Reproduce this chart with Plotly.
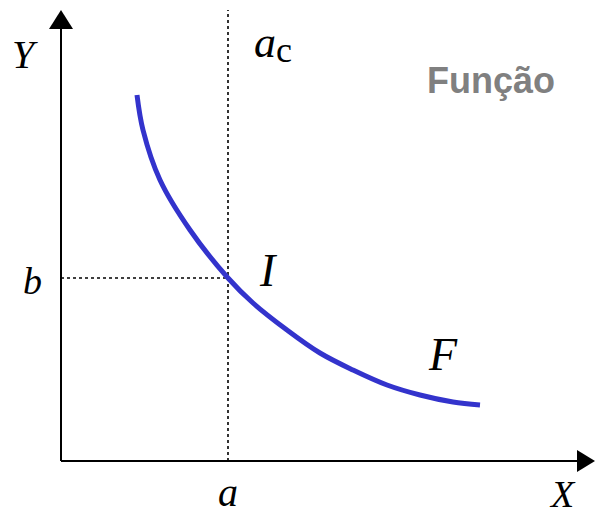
import plotly.graph_objects as go

# Curve F (data units: origin at axes intersection, 1 unit ~ 1 px)
curve_x = [76, 82, 99, 129, 167, 192, 226, 259, 292, 326, 359, 392, 419]
curve_y = [366, 331, 281, 231, 183, 158, 131, 108, 91, 76, 66, 59, 56]

a_val = 167
b_val = 183
x_max = 534
y_max = 451

serif = "Liberation Serif"
sans = "Liberation Sans"

fig = go.Figure()

# dotted guide lines
fig.add_trace(go.Scatter(x=[a_val, a_val], y=[0, y_max], mode="lines",
                         line=dict(color="black", width=1.6, dash="dot"),
                         hoverinfo="skip", showlegend=False))
fig.add_trace(go.Scatter(x=[0, a_val], y=[b_val, b_val], mode="lines",
                         line=dict(color="black", width=1.6, dash="dot"),
                         hoverinfo="skip", showlegend=False))

# curve
fig.add_trace(go.Scatter(x=curve_x, y=curve_y, mode="lines",
                         line=dict(color="#3333CC", width=5, shape="spline", smoothing=1.0),
                         hoverinfo="skip", showlegend=False))

shapes = [
    # axes
    dict(type="line", x0=0, y0=0, x1=0, y1=440, line=dict(color="black", width=2)),
    dict(type="line", x0=0, y0=0, x1=520, y1=0, line=dict(color="black", width=2)),
    # arrow heads
    dict(type="path", path="M -12,432 L 12,432 L 0,451 Z", fillcolor="black",
         line=dict(color="black", width=0)),
    dict(type="path", path="M 516,-11 L 516,11 L 534,0 Z", fillcolor="black",
         line=dict(color="black", width=0)),
]

def txt(x, y, t, size, family=serif, color="black", bold=False):
    return dict(x=x, y=y, xref="x", yref="y", text=(f"<b>{t}</b>" if bold else t),
                showarrow=False, xanchor="center", yanchor="middle",
                font=dict(family=family, size=size, color=color))

annotations = [
    txt(-36, 407, "<i>Y</i>", 40),
    txt(501, -33, "<i>X</i>", 38),
    txt(a_val, -31, "<i>a</i>", 40),
    txt(-29, 180, "<i>b</i>", 38),
    txt(204, 419, "<i>a</i>", 44),
    txt(223, 411, "c", 36),
    txt(207, 191, "<i>I</i>", 46),
    txt(382, 107, "<i>F</i>", 46),
    txt(430, 381, "Função", 36, family=sans, color="#808080", bold=True),
]

fig.update_layout(
    width=595, height=518,
    margin=dict(l=0, r=0, t=0, b=0),
    paper_bgcolor="white", plot_bgcolor="white",
    xaxis=dict(range=[-61, x_max], visible=False, fixedrange=True),
    yaxis=dict(range=[-57, 461], visible=False, fixedrange=True),
    shapes=shapes, annotations=annotations,
)

# remove the default 8px page margin so the figure fills the window exactly
fig.write_html("out.html",
               config={"displayModeBar": False, "staticPlot": True},
               post_script="document.body.style.margin='0px';"
                           "document.body.style.overflow='hidden';")
